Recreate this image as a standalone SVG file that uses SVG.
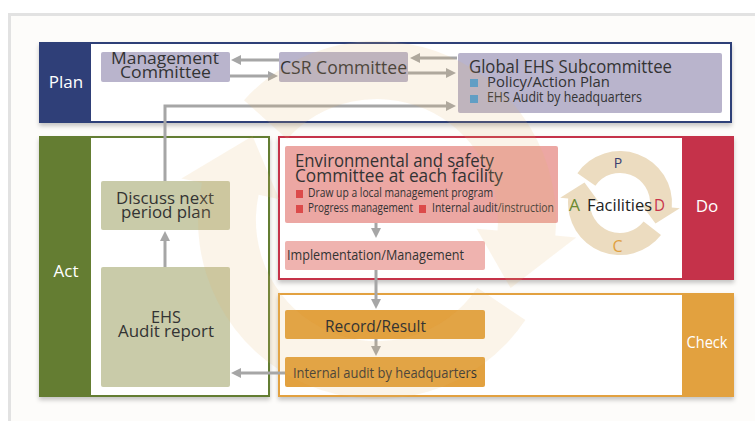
<svg xmlns="http://www.w3.org/2000/svg" width="755" height="421" viewBox="0 0 755 421">
<defs>
<style>
text{font-family:"Open Sans","Noto Sans","DejaVu Sans",sans-serif;fill:#333;}
.lbl{fill:#fff;font-size:17px;text-anchor:middle;}
.plan{fill:#b9b4cc;}
.act{fill:#c9cba9;}
.do1{fill:#eca7a3;}
.do2{fill:#efb3af;}
.chk{fill:#e2a13f;}
.conn{fill:none;stroke:#a6a6a6;stroke-width:3;marker-end:url(#ah);}
</style>
<marker id="ah" viewBox="0 0 10 10" markerWidth="10" markerHeight="11" refX="4" refY="5" orient="auto" markerUnits="userSpaceOnUse">
<path d="M0,0 L10,5 L0,10 z" fill="#a6a6a6"/>
</marker>
<filter id="sh" x="-5%" y="-5%" width="110%" height="120%">
<feDropShadow dx="0" dy="3" stdDeviation="2" flood-color="#000" flood-opacity="0.22"/>
</filter>
</defs>
<rect x="0" y="0" width="755" height="421" fill="#fff"/>
<rect x="9.5" y="14.5" width="760" height="420" fill="#fdfcfa" stroke="#e2e2e2" stroke-width="3"/>

<g id="panel-plan">
<rect x="40" y="43" width="691" height="79" fill="#fff" stroke="#2f3f78" stroke-width="2" filter="url(#sh)"/>
<rect x="40" y="43" width="51" height="79" fill="#2f3f78"/>
<text class="lbl" x="66" y="88">Plan</text>
</g>
<g id="panel-act">
<rect x="40" y="137" width="229" height="259" fill="#fff" stroke="#647d32" stroke-width="2" filter="url(#sh)"/>
<rect x="40" y="137" width="51" height="259" fill="#647d32"/>
<text class="lbl" x="66" y="277">Act</text>
</g>
<g id="panel-do">
<rect x="279" y="137" width="454" height="142" fill="#fff" stroke="#c5324a" stroke-width="2" filter="url(#sh)"/>
<rect x="682" y="137" width="51" height="142" fill="#c5324a"/>
<text class="lbl" x="707" y="212">Do</text>
</g>
<g id="panel-check">
<rect x="279" y="294" width="454" height="102" fill="#fff" stroke="#e2a13f" stroke-width="2" filter="url(#sh)"/>
<rect x="682" y="294" width="51" height="102" fill="#e2a13f"/>
<text class="lbl" x="707" y="348" textLength="41" lengthAdjust="spacingAndGlyphs">Check</text>
</g>

<g id="management-committee">
<rect class="plan" x="101" y="52" width="129" height="30" rx="2"/>
<text x="111" y="64" font-size="16" textLength="108" lengthAdjust="spacingAndGlyphs">Management</text>
<text x="120" y="78" font-size="16" textLength="91" lengthAdjust="spacingAndGlyphs">Committee</text>
</g>
<g id="csr-committee">
<rect class="plan" x="279" y="52" width="129" height="30" rx="2"/>
<text x="280" y="74" font-size="18" textLength="127" lengthAdjust="spacingAndGlyphs">CSR Committee</text>
</g>
<g id="global-ehs">
<rect class="plan" x="458" y="53" width="264" height="60" rx="2"/>
<text x="469" y="73" font-size="18" textLength="203" lengthAdjust="spacingAndGlyphs">Global EHS Subcommittee</text>
<rect x="470" y="79" width="8" height="8" fill="#4a9ad4"/>
<text x="487" y="87" font-size="14" textLength="123" lengthAdjust="spacingAndGlyphs">Policy/Action Plan</text>
<rect x="470" y="95" width="8" height="8" fill="#4a9ad4"/>
<text x="487" y="102" font-size="14" textLength="155" lengthAdjust="spacingAndGlyphs">EHS Audit by headquarters</text>
</g>
<g id="discuss-next">
<rect class="act" x="101" y="181" width="129" height="49" rx="2"/>
<text x="116" y="204" font-size="17" textLength="98" lengthAdjust="spacingAndGlyphs">Discuss next</text>
<text x="121" y="218" font-size="17" textLength="90" lengthAdjust="spacingAndGlyphs">period plan</text>
</g>
<g id="ehs-audit-report">
<rect class="act" x="101" y="267" width="129" height="120" rx="2"/>
<text x="151" y="323" font-size="17" textLength="30" lengthAdjust="spacingAndGlyphs">EHS</text>
<text x="118" y="337" font-size="17" textLength="96" lengthAdjust="spacingAndGlyphs">Audit report</text>
</g>
<g id="env-safety-committee">
<rect class="do1" x="285" y="146" width="273" height="77" rx="2"/>
<text x="295" y="167" font-size="18" textLength="199" lengthAdjust="spacingAndGlyphs">Environmental and safety</text>
<text x="295" y="182" font-size="18" textLength="208" lengthAdjust="spacingAndGlyphs">Committee at each facility</text>
<rect x="296" y="190" width="7" height="8" fill="#dc4a4a"/>
<text x="308" y="197" font-size="13" textLength="185" lengthAdjust="spacingAndGlyphs">Draw up a local management program</text>
<rect x="296" y="205" width="7" height="8" fill="#dc4a4a"/>
<text x="308" y="212" font-size="13" textLength="105" lengthAdjust="spacingAndGlyphs">Progress management</text>
<rect x="419" y="205" width="7" height="8" fill="#dc4a4a"/>
<text x="432" y="212" font-size="13" textLength="122" lengthAdjust="spacingAndGlyphs">Internal audit/instruction</text>
</g>
<g id="implementation">
<rect class="do2" x="285" y="241" width="200" height="29" rx="2"/>
<text x="287" y="260" font-size="14" textLength="177" lengthAdjust="spacingAndGlyphs">Implementation/Management</text>
</g>
<g id="record-result">
<rect class="chk" x="285" y="310" width="200" height="29" rx="2"/>
<text x="325" y="332" font-size="16" textLength="101" lengthAdjust="spacingAndGlyphs">Record/Result</text>
</g>
<g id="internal-audit">
<rect class="chk" x="285" y="357" width="200" height="30" rx="2"/>
<text x="293" y="378" font-size="14" textLength="184" lengthAdjust="spacingAndGlyphs">Internal audit by headquarters</text>
</g>
<g id="facilities-cycle">
<path d="M577.4,173.2 A52,52 0 0 1 671.8,207.5 L679.8,208.2 L655.5,223.5 L641.9,204.9 L649.9,205.6 A30,30 0 0 0 595.4,185.8 Z" fill="#ecdcc0"/>
<path d="M661.0,235.0 A52,52 0 0 1 568.2,198.5 L560.2,197.8 L584.5,182.5 L598.1,201.1 L590.1,200.4 A30,30 0 0 0 643.6,221.5 Z" fill="#ecdcc0"/>
<text x="618" y="168" font-size="14" text-anchor="middle" style="fill:#3a3f70">P</text>
<text x="569" y="211" font-size="17" textLength="11" lengthAdjust="spacingAndGlyphs" style="fill:#6a8a30">A</text>
<text x="587" y="211" font-size="17" textLength="65" lengthAdjust="spacingAndGlyphs" style="fill:#222">Facilities</text>
<text x="654" y="211" font-size="17" textLength="11" lengthAdjust="spacingAndGlyphs" style="fill:#c8334a">D</text>
<text x="617.5" y="252" font-size="16" text-anchor="middle" style="fill:#e0a040">C</text>
</g>

<g id="connectors">
<path class="conn" d="M279,60 L237,60"/>
<path class="conn" d="M230,76 L272,76"/>
<path class="conn" d="M457,58 L416,58"/>
<path class="conn" d="M408,73 L450,73"/>
<path class="conn" d="M165,181 L165,106 L450,106"/>
<path class="conn" d="M165,267 L165,237"/>
<path class="conn" d="M376,223 L376,232"/>
<path class="conn" d="M376,270 L376,303"/>
<path class="conn" d="M376,339 L376,350"/>
<path class="conn" d="M285,373 L237,373"/>
</g>

<g id="pdca-ring" fill="#e6b66a" fill-opacity="0.15">
<path d="M244.0,100.2 A179,179 0 0 1 555.3,235.6 L576.2,237.4 L510.7,288.1 L476.6,228.7 L497.5,230.5 A121,121 0 0 0 287.1,139.0 Z"/>
<path d="M525.4,320.1 A179,179 0 0 1 201.9,182.8 L181.4,178.4 L252.6,136.1 L279.2,199.2 L258.6,194.8 A121,121 0 0 0 477.3,287.7 Z"/>
</g>
</svg>
